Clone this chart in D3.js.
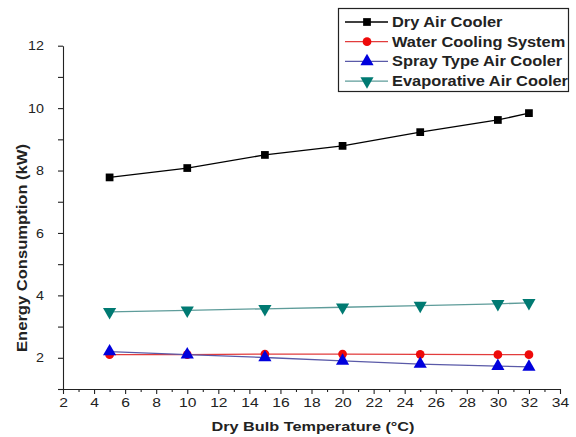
<!DOCTYPE html>
<html>
<head>
<meta charset="utf-8">
<script src="https://cdn.jsdelivr.net/npm/d3@7"></script>
<style>
  body { margin: 0; background: #fff; }
  svg { display: block; }
</style>
</head>
<body>
<svg id="chart" width="576" height="437"></svg>
<script>
// Dry bulb temperature (°C)
const temperatures = [5, 10, 15, 20, 25, 30, 32];
// Energy consumption (kW) per cooling method
const dryAirCooler = [7.78, 8.08, 8.5, 8.79, 9.23, 9.62, 9.84];
const waterCooling = [2.1, 2.1, 2.12, 2.12, 2.11, 2.1, 2.1];
const sprayTypeCooler = [2.2, 2.1, 2.01, 1.9, 1.8, 1.73, 1.71];
const evaporativeCooler = [3.47, 3.52, 3.57, 3.62, 3.67, 3.73, 3.76];
const seriesNames = ["Dry Air Cooler", "Water Cooling System", "Spray Type Air Cooler", "Evaporative Air Cooler"];
const xTicks = d3.range(2, 35, 2);
const yTicks = [2, 4, 6, 8, 10, 12];

const series = [
  { name: seriesNames[0], values: dryAirCooler, line: "#000000", fill: "#000000", symbol: d3.symbolSquare, size: 60 },
  { name: seriesNames[1], values: waterCooling, line: "#e23c3c", fill: "#ee0a0a", symbol: d3.symbolCircle, size: 60 },
  { name: seriesNames[2], values: sprayTypeCooler, line: "#5a5aa8", fill: "#0000dd", symbol: d3.symbolTriangle, size: 75 },
  { name: seriesNames[3], values: evaporativeCooler, line: "#5e9c9a", fill: "#007a72", symbol: d3.symbolTriangle, size: 75, flip: true }
];

const svg = d3.select("#chart");
const x = d3.scaleLinear().domain([2, 34]).range([63, 560]);
const y = d3.scaleLinear().domain([1, 12]).range([389, 45.7]);

const font = "Arial, 'Liberation Sans', sans-serif";

// Widen text horizontally by a factor k
function stretch(sel, k) {
  sel.each(function () {
    const w = this.getComputedTextLength();
    d3.select(this).attr("textLength", w * k).attr("lengthAdjust", "spacingAndGlyphs");
  });
}

// Axes with major ticks and minor ticks
svg.append("g").attr("class", "xaxis").attr("transform", `translate(0,${y(1)})`)
  .call(d3.axisBottom(x).tickValues(xTicks).tickSize(5).tickPadding(4).tickSizeOuter(0));
svg.append("g").attr("transform", `translate(0,${y(1)})`)
  .call(d3.axisBottom(x).tickValues(d3.range(3, 34, 2)).tickSize(3).tickFormat("").tickSizeOuter(0))
  .select(".domain").remove();

svg.append("g").attr("class", "yaxis").attr("transform", `translate(${x(2)},0)`)
  .call(d3.axisLeft(y).tickValues(yTicks).tickSize(5).tickPadding(14).tickSizeOuter(0));
svg.append("g").attr("transform", `translate(${x(2)},0)`)
  .call(d3.axisLeft(y).tickValues([1, 3, 5, 7, 9, 11]).tickSize(5).tickFormat("").tickSizeOuter(0))
  .select(".domain").remove();

svg.selectAll(".tick text").attr("font-family", font).attr("font-size", 13).attr("fill", "#222");
svg.selectAll(".domain, .tick line").attr("stroke", "#222").attr("stroke-width", 1.1);
stretch(svg.selectAll(".xaxis .tick text"), 1.2);
// y labels are right-aligned; stretch from the right edge
svg.selectAll(".yaxis .tick text").each(function () {
  const w = this.getComputedTextLength();
  d3.select(this).attr("textLength", w * 1.1).attr("lengthAdjust", "spacingAndGlyphs");
});

// Axis titles
const xTitle = svg.append("text")
  .attr("x", 313).attr("y", 431)
  .attr("text-anchor", "middle")
  .attr("font-family", font).attr("font-size", 13).attr("font-weight", "bold").attr("fill", "#222")
  .text("Dry Bulb Temperature (°C)");
xTitle.attr("textLength", 203).attr("lengthAdjust", "spacingAndGlyphs");

const yTitle = svg.append("text")
  .attr("transform", "translate(27,248) rotate(-90)")
  .attr("text-anchor", "middle")
  .attr("font-family", font).attr("font-size", 14).attr("font-weight", "bold").attr("fill", "#222")
  .text("Energy Consumption (kW)");
yTitle.attr("textLength", 208).attr("lengthAdjust", "spacingAndGlyphs");

// Series lines and markers
const line = d3.line().x((d, i) => x(temperatures[i])).y(d => y(d));
series.forEach(s => {
  svg.append("path").datum(s.values)
    .attr("d", line).attr("fill", "none").attr("stroke", s.line).attr("stroke-width", 1.3);
  svg.append("g").selectAll("path").data(s.values).join("path")
    .attr("transform", (d, i) => `translate(${x(temperatures[i])},${y(d)})${s.flip ? " rotate(180)" : ""}`)
    .attr("d", d3.symbol().type(s.symbol).size(s.size))
    .attr("fill", s.fill);
});

// Legend
const legend = svg.append("g");
legend.append("rect")
  .attr("x", 338.5).attr("y", 8.5).attr("width", 230).attr("height", 83)
  .attr("fill", "#fff").attr("stroke", "#222").attr("stroke-width", 1.2);
series.forEach((s, i) => {
  const cy = 22 + i * 19.7;
  legend.append("line").attr("x1", 345).attr("x2", 388).attr("y1", cy).attr("y2", cy)
    .attr("stroke", s.line).attr("stroke-width", 1.3);
  legend.append("path")
    .attr("transform", `translate(367,${cy})${s.flip ? " rotate(180)" : ""}`)
    .attr("d", d3.symbol().type(s.symbol).size(s.size))
    .attr("fill", s.fill);
  const t = legend.append("text")
    .attr("x", 392).attr("y", cy + 5)
    .attr("font-family", font).attr("font-size", 14).attr("font-weight", "bold").attr("fill", "#222")
    .text(s.name);
  stretch(t, 1.17);
});
</script>
</body>
</html>
